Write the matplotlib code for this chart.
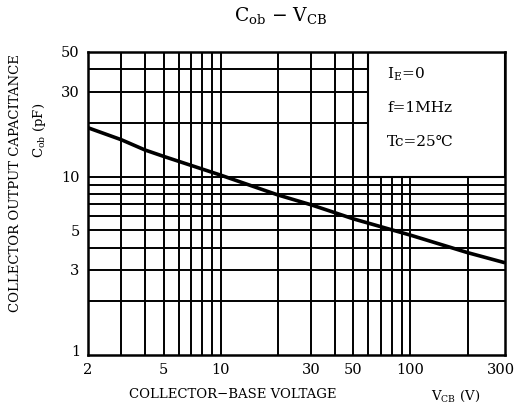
import matplotlib
matplotlib.use("Agg")
import matplotlib.pyplot as plt
from matplotlib.patches import Rectangle

plt.rcParams['font.family'] = ['DejaVu Serif', 'DejaVu Sans']
plt.rcParams['mathtext.fontset'] = 'dejavuserif'

# data
vcb = [2, 3, 4, 5, 10, 20, 30, 40, 50, 100, 200, 315]
cob = [18.8, 16.1, 14.1, 13.0, 10.2, 7.9, 6.95, 6.28, 5.8, 4.7, 3.75, 3.29]

x_ticks = [2, 5, 10, 30, 50, 100, 300]
x_ticklabels = ['2', '5', '10', '30', '50', '100', '300']
y_ticks = [3, 5, 10, 30, 50]
y_ticklabels = ['3', '5', '10', '30', '50']
x_grid = [3, 4, 5, 6, 7, 8, 9, 10, 20, 30, 40, 50, 60, 70, 80, 90, 100, 200]
y_grid = [2, 3, 4, 5, 6, 7, 8, 9, 10, 20, 30, 40]
cond_lines = [r'I$_{\mathregular{E}}$=0', 'f=1MHz', 'Tc=25℃']

W, H = 520, 409
fig = plt.figure(figsize=(W/100, H/100), dpi=100)
ax = fig.add_axes([88/W, 1-355/H, (505-88)/W, (355-52)/H])
ax.set_xscale('log')
ax.set_yscale('log')
ax.set_xlim(2, 315)
ax.set_ylim(1, 50)

for xv in x_grid:
    ax.axvline(xv, color='black', lw=1.4, zorder=1)
for yv in y_grid:
    ax.axhline(yv, color='black', lw=1.4, zorder=1)

# condition box
ax.add_patch(Rectangle((60, 10), 315-60, 50-10, facecolor='white',
                       edgecolor='black', lw=1.5, zorder=2))

ax.plot(vcb, cob, color='black', lw=2.6, zorder=3, solid_capstyle='butt')

ax.minorticks_off()
ax.set_xticks(x_ticks)
ax.set_xticklabels(x_ticklabels, fontsize=10.5)
ax.set_yticks(y_ticks)
ax.set_yticklabels(y_ticklabels, fontsize=10.5)
ax.tick_params(length=0, pad=6)
for s in ax.spines.values():
    s.set_linewidth(1.8)
    s.set_zorder(4)

# the "1" at bottom left of y-axis
fig.text(80/W, 1-352/H, '1', fontsize=10.5, ha='right', va='center')

for i, t in enumerate(cond_lines):
    fig.text(387/W, 1-(74+34*i)/H, t, fontsize=11, ha='left', va='center')

fig.text(281/W, 1-16/H, r'C$_{\mathregular{ob}}$ $-$ V$_{\mathregular{CB}}$',
         fontsize=13.5, ha='center', va='center')

fig.text(233/W, 1-395/H, 'COLLECTOR\u2212BASE VOLTAGE', fontsize=9.5,
         ha='center', va='center')
fig.text(456/W, 1-396/H, r'V$_{\mathregular{CB}}$ (V)', fontsize=9.5,
         ha='center', va='center')

fig.text(16/W, 1-183/H, 'COLLECTOR OUTPUT CAPACITANCE', fontsize=9.5,
         ha='center', va='center', rotation=90)
fig.text(40/W, 1-130/H, r'C$_{\mathregular{ob}}$ (pF)', fontsize=9.5,
         ha='center', va='center', rotation=90)

fig.savefig('out.png', dpi=100, facecolor='white')
